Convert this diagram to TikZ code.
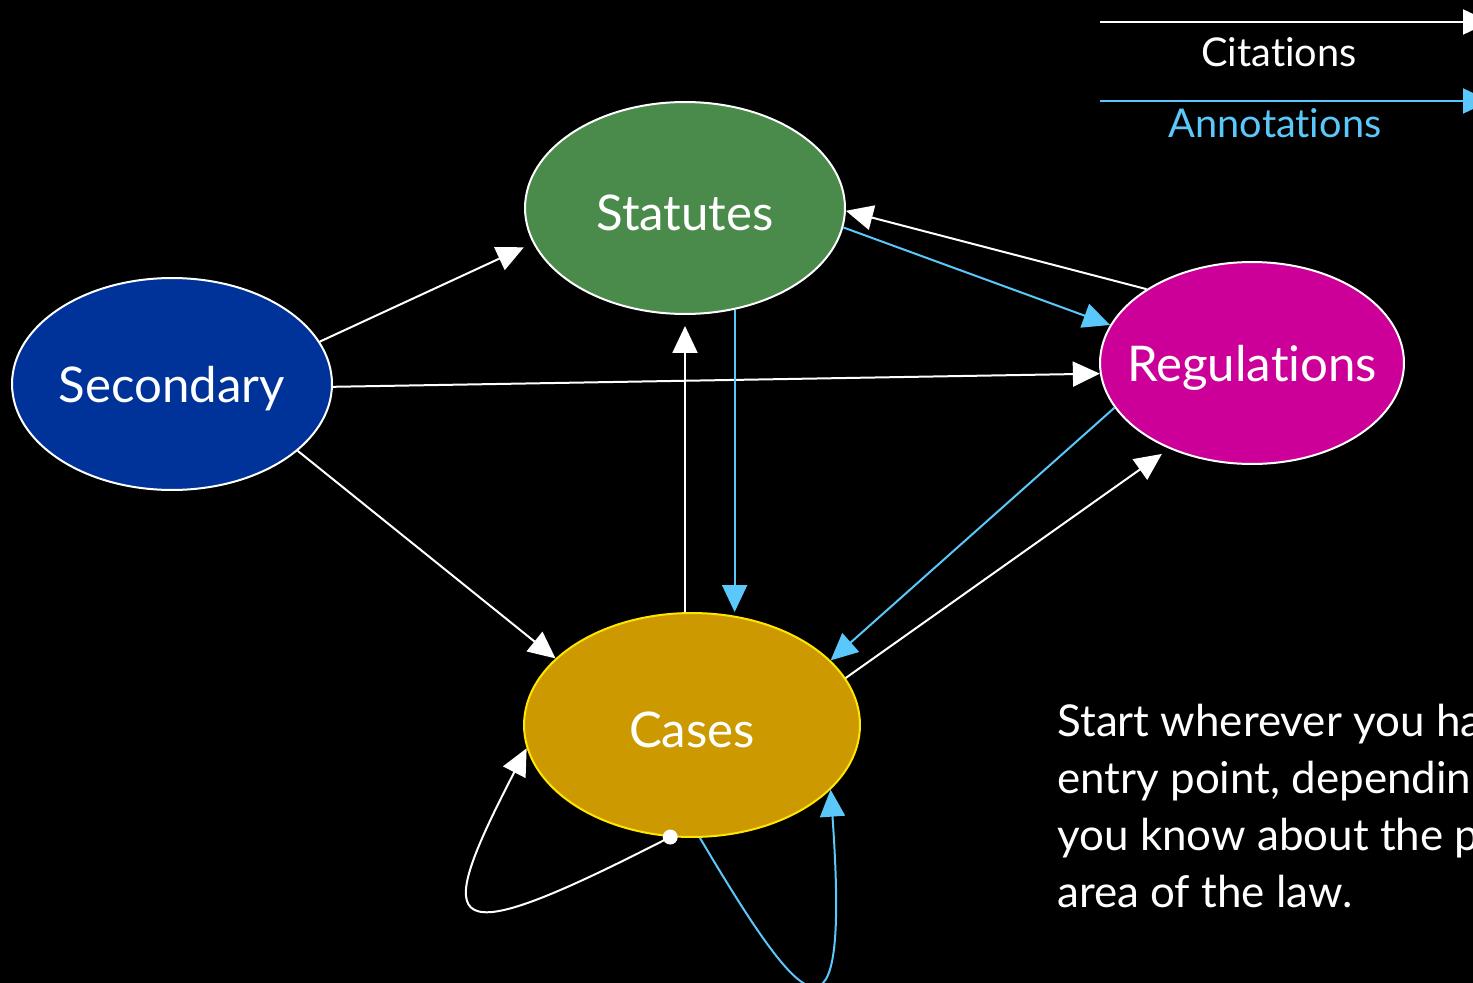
\documentclass[tikz,border=0pt]{standalone}
\usepackage{fontspec}
\setmainfont{Lato}[Ligatures={NoCommon,NoRare}]
\usetikzlibrary{shapes.geometric,arrows.meta,calc}
\definecolor{stgreen}{RGB}{74,139,76}
\definecolor{secblue}{RGB}{0,51,153}
\definecolor{regmag}{RGB}{204,0,153}
\definecolor{casegold}{RGB}{204,153,0}
\definecolor{caseedge}{RGB}{255,230,0}
\definecolor{annoblue}{RGB}{90,200,250}
\begin{document}
\begin{tikzpicture}[x=0.02cm,y=-0.02cm,
  ell/.style={ellipse, draw=white, line width=0.04cm, inner sep=0pt},
  lbl/.style={text=white, font=\fontsize{28}{34}\selectfont, yshift=-0.1cm},
  cite/.style={draw=white, line width=0.04cm, -{Triangle[length=0.54cm,width=0.5cm]}},
  anno/.style={draw=annoblue, line width=0.04cm, -{Triangle[length=0.54cm,width=0.5cm,fill=annoblue]}},
  legtext/.style={font=\fontsize{22.6}{28}\selectfont},
  body/.style={text=white, font=\fontsize{25}{32.3}\selectfont, align=left, inner sep=0pt}]
\fill[black] (0,0) rectangle (1473,983);
\useasboundingbox (0,0) rectangle (1473,983);
\clip (0,0) rectangle (1473,983);

% nodes
\node[ell, fill=stgreen, minimum width=6.4cm, minimum height=4.24cm,
  label={[lbl]center:Statutes}] (stat) at (685,208) {};
\node[ell, fill=secblue, minimum width=6.4cm, minimum height=4.24cm,
  label={[lbl]center:Secondary}] (sec) at (172,384) {};
\node[ell, fill=regmag, minimum width=6.08cm, minimum height=4.04cm,
  label={[lbl]center:Regulations}] (reg) at (1252,363) {};
\node[ell, fill=casegold, draw=caseedge, minimum width=6.72cm, minimum height=4.48cm,
  label={[lbl]center:Cases}] (cases) at (692,725) {};

% legend
\coordinate (c1) at (1100,22);
\coordinate (c2) at (1490,22);
\coordinate (a1) at (1100,101);
\coordinate (a2) at (1490,101);
\draw[cite] (c1) -- (c2);
\draw[anno] (a1) -- (a2);
\node[legtext, text=white] (citl) at (1279,52) {Citations};
\node[legtext, text=annoblue] (annl) at (1275,123) {Annotations};

% citations (white)
\draw[cite, shorten >=0.2cm] (sec.16.4) -- (stat.193.3);
\draw[cite] (sec.-1.8) -- (reg.184);
\draw[cite] (sec.-28.3) -- (cases.154.8);
\draw[cite, shorten >=0.22cm] (cases.north -| stat.south) -- (stat.south);
\draw[cite] (reg.145.5) -- (stat.-1.8);
\draw[cite, shorten >=0.18cm] (cases.17) -- (reg.226.3);
\draw[cite] (cases.-101.5) .. controls (440,955) and (430,935) .. (cases.188);
\fill[white] (cases.-101.5) circle (0.15cm);

% annotations (blue)
\draw[anno] (stat.-64.6) -- (stat.-64.6 |- cases.north);
\draw[anno] (stat.-7.9) -- (reg.165.2);
\draw[anno] (reg.198) -- (cases.25.2);
\draw[anno] (cases.-86) .. controls (805,1015) and (850,1065) .. (cases.-25.2);

% body text
\node[body, anchor=base west] (note) at (1057,907)
  {Start wherever you ha\\entry point, dependin\\you know about the p\\area of the law.};
\end{tikzpicture}
\end{document}
